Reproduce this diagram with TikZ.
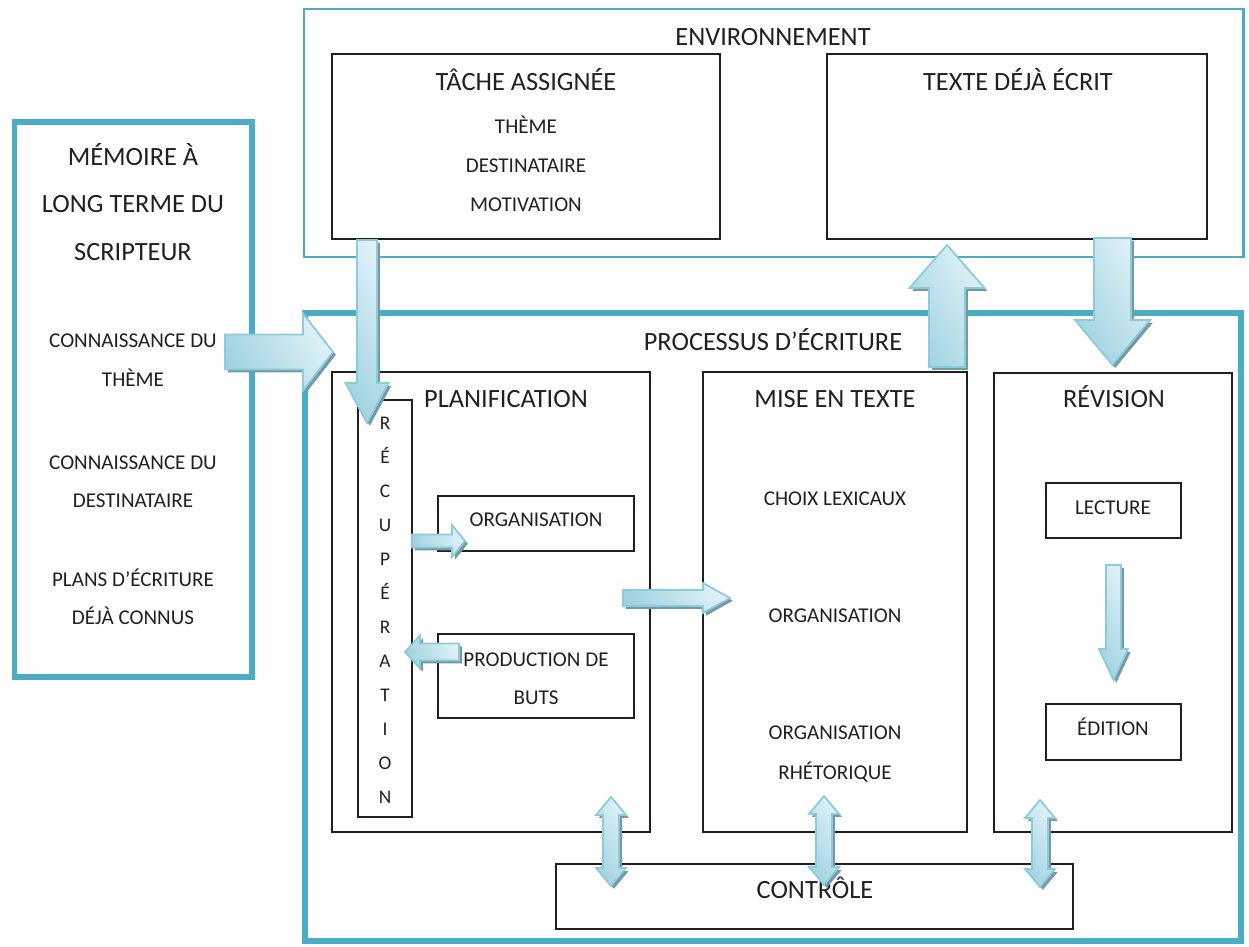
\documentclass[tikz,border=0pt]{standalone}
\usepackage{fontspec}
\setmainfont{Carlito}
\usetikzlibrary{calc,fit,shadows}
\definecolor{TextClr}{RGB}{35,31,32}
\definecolor{TealClr}{RGB}{75,172,198}
\definecolor{ArrowLight}{RGB}{224,241,246}
\definecolor{ArrowMid}{RGB}{160,211,225}
\definecolor{ArrowLine}{RGB}{140,203,219}
\definecolor{ShadowClr}{RGB}{118,152,163}

\tikzset{
  boite/.style={draw=TextClr,line width=1.1pt,inner sep=0pt},
  cadre/.style={draw=TealClr,line width=#1,inner sep=0pt},
  titre/.style={font=\fontsize{15}{18}\selectfont,text=TextClr,inner sep=0pt,text height=9.5pt,text depth=0pt},
  item/.style={font=\fontsize{12}{14}\selectfont,text=TextClr,inner sep=0pt,text height=7.6pt,text depth=0pt},
  lettre/.style={font=\fontsize{11}{13}\selectfont,text=TextClr,inner sep=0pt,text height=6.9pt,text depth=0pt},
  fleche/.style={draw=ArrowLine,line width=1pt,line join=miter,
    left color=ArrowMid,right color=ArrowLight,shading angle=120,
    drop shadow={shadow xshift=1.6pt,shadow yshift=-1.6pt,fill=ShadowClr,opacity=1}}
}

% #1 from, #2 to, #3 half shaft, #4 half head, #5 head length (px)
\newcommand\FlecheBloc[5]{%
  \coordinate (fb-h) at ($(#2)!#5*0.02cm!(#1)$);
  \path[fleche] ($(#1)!#3*0.02cm!90:(#2)$) -- ($(fb-h)!#3*0.02cm!90:(#2)$)
    -- ($(fb-h)!#4*0.02cm!90:(#2)$) -- (#2) -- ($(fb-h)!#4*0.02cm!-90:(#2)$)
    -- ($(fb-h)!#3*0.02cm!-90:(#2)$) -- ($(#1)!#3*0.02cm!-90:(#2)$) -- cycle;}
\newcommand\FlecheDouble[5]{%
  \coordinate (fd-a) at ($(#1)!#5*0.02cm!(#2)$);
  \coordinate (fd-b) at ($(#2)!#5*0.02cm!(#1)$);
  \path[fleche] (#1) -- ($(fd-a)!#4*0.02cm!90:(#2)$) -- ($(fd-a)!#3*0.02cm!90:(#2)$)
    -- ($(fd-b)!#3*0.02cm!90:(#2)$) -- ($(fd-b)!#4*0.02cm!90:(#2)$) -- (#2)
    -- ($(fd-b)!#4*0.02cm!-90:(#2)$) -- ($(fd-b)!#3*0.02cm!-90:(#2)$)
    -- ($(fd-a)!#3*0.02cm!-90:(#2)$) -- ($(fd-a)!#4*0.02cm!-90:(#2)$) -- cycle;}

\begin{document}
\begin{tikzpicture}[x=0.02cm,y=-0.02cm]
\useasboundingbox (0,0) rectangle (1249,947);

\node[cadre=3.4pt,fit={(14.5,122) (252,677)}] (memoire) {};
\node[cadre=1.7pt,fit={(304,9) (1243,257)}] (env) {};
\node[cadre=3.4pt,fit={(305,313) (1241,941)}] (processus) {};

\node[boite,fit={(332,54) (720,239)}] (tache) {};
\node[boite,fit={(827,54) (1207,239)}] (texte) {};
\node[boite,fit={(332,372) (650,832)}] (plan) {};
\node[boite,fit={(703,372) (967,832)}] (mise) {};
\node[boite,fit={(994,373) (1232,832)}] (revision) {};
\node[boite,fit={(556,864) (1073,929)}] (controle) {};
\node[boite,fit={(358,400) (412,817)}] (recup) {};
\node[boite,fit={(438,496) (634,551)}] (orga) {};
\node[boite,fit={(438,634) (634,718)}] (prod) {};
\node[boite,fit={(1046,483) (1181,538)}] (lecture) {};
\node[boite,fit={(1046,704) (1181,760)}] (edition) {};

\node[titre] (env-t) at (773,37) {ENVIRONNEMENT};
\node[titre] (tache-t) at (526,82) {TÂCHE ASSIGNÉE};
\node[item] (tache-a) at (526,127) {THÈME};
\node[item] (tache-b) at (526,166) {DESTINATAIRE};
\node[item] (tache-c) at (526,205) {MOTIVATION};
\node[titre] (texte-t) at (1018,82) {TEXTE DÉJÀ ÉCRIT};

\node[titre] (mem-a) at (133,157) {MÉMOIRE À};
\node[titre] (mem-b) at (133,204) {LONG TERME DU};
\node[titre] (mem-c) at (133,252) {SCRIPTEUR};
\node[item] (mem-d) at (133,341) {CONNAISSANCE DU};
\node[item] (mem-e) at (133,380) {THÈME};
\node[item] (mem-f) at (133,463) {CONNAISSANCE DU};
\node[item] (mem-g) at (133,501) {DESTINATAIRE};
\node[item] (mem-h) at (133,580) {PLANS D’ÉCRITURE};
\node[item] (mem-i) at (133,618) {DÉJÀ CONNUS};

\node[titre] (proc-t) at (773,342) {PROCESSUS D’ÉCRITURE};
\node[titre] (plan-t) at (506,399) {PLANIFICATION};
\node[titre] (mise-t) at (835,399) {MISE EN TEXTE};
\node[titre] (rev-t) at (1114,399) {RÉVISION};
\node[titre] (ctrl-t) at (815,890) {CONTRÔLE};

\foreach \l [count=\i from 0] in {R,É,C,U,P,É,R,A,T,I,O,N}
  \node[lettre] (recup-\i) at (385,423+34*\i) {\l};
\node[item] (orga-t) at (536,520) {ORGANISATION};
\node[item] (prod-a) at (536,660) {PRODUCTION DE};
\node[item] (prod-b) at (536,698) {BUTS};

\node[item] (mise-a) at (835,499) {CHOIX LEXICAUX};
\node[item] (mise-b) at (835,616) {ORGANISATION};
\node[item] (mise-c) at (835,733) {ORGANISATION};
\node[item] (mise-d) at (835,773) {RHÉTORIQUE};

\node[item] (lect-t) at (1113,508) {LECTURE};
\node[item] (edit-t) at (1113,729) {ÉDITION};

\coordinate (mem-out) at (225,352);
\coordinate (proc-in) at (333,352);
\coordinate (tache-out) at (367,240);
\coordinate (recup-in) at (367,423);
\coordinate (mise-out) at (947,367);
\coordinate (texte-in) at (947,245);
\coordinate (texte-out) at (1112.5,238);
\coordinate (rev-in) at (1112.5,365);
\coordinate (recup-out) at (412,541);
\coordinate (orga-in) at (465,541);
\coordinate (prod-out) at (459,652);
\coordinate (recup-back) at (405,652);
\coordinate (plan-out) at (623,598);
\coordinate (mise-in) at (730,598);
\coordinate (lect-out) at (1113.5,565);
\coordinate (edit-in) at (1113.5,680);
\coordinate (plan-c) at (611,797);
\coordinate (ctrl-a) at (611,886);
\coordinate (mise-c) at (824,796);
\coordinate (ctrl-b) at (824,885);
\coordinate (rev-c) at (1040,800);
\coordinate (ctrl-c) at (1040,887);

\FlecheBloc{mem-out}{proc-in}{17.5}{38.5}{30}
\FlecheBloc{tache-out}{recup-in}{10}{21.5}{40}
\FlecheBloc{mise-out}{texte-in}{18}{37.5}{43}
\FlecheBloc{texte-out}{rev-in}{18.5}{37.5}{45}
\FlecheBloc{recup-out}{orga-in}{6.5}{16}{13}
\FlecheBloc{prod-out}{recup-back}{8.5}{16.5}{15}
\FlecheBloc{plan-out}{mise-in}{8}{15}{27}
\FlecheBloc{lect-out}{edit-in}{7.5}{14.5}{31}
\FlecheDouble{plan-c}{ctrl-a}{8}{15}{18}
\FlecheDouble{mise-c}{ctrl-b}{8}{15}{18}
\FlecheDouble{rev-c}{ctrl-c}{8}{15}{18}

\end{tikzpicture}
\end{document}
